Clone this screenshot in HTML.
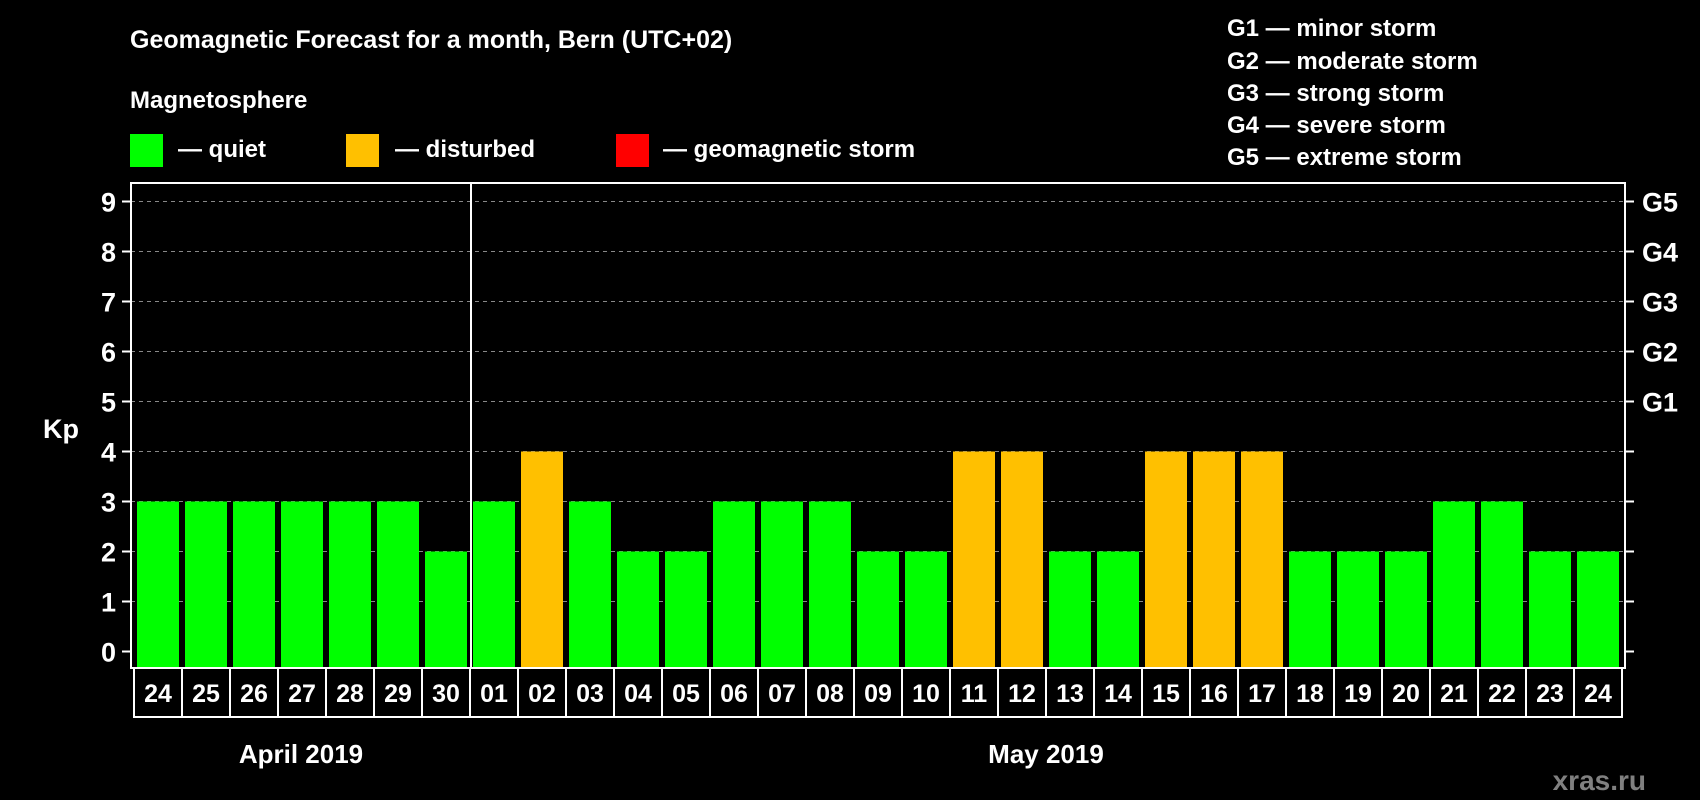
<!DOCTYPE html>
<html><head><meta charset="utf-8"><style>
html,body{margin:0;padding:0;background:#000;width:1700px;height:800px;overflow:hidden}
svg{display:block;font-family:"Liberation Sans",sans-serif;font-weight:bold}
</style></head><body>
<svg id="c" width="1700" height="800" viewBox="0 0 1700 800">
<text x="130" y="48" fill="#fff" font-size="25">Geomagnetic Forecast for a month, Bern (UTC+02)</text>
<text x="130" y="108" fill="#fff" font-size="24">Magnetosphere</text>
<rect x="130" y="134" width="33" height="33" fill="#00ff00"/>
<text x="178" y="157" fill="#fff" font-size="24">— quiet</text>
<rect x="346" y="134" width="33" height="33" fill="#ffc000"/>
<text x="395" y="157" fill="#fff" font-size="24">— disturbed</text>
<rect x="616" y="134" width="33" height="33" fill="#ff0000"/>
<text x="663" y="157" fill="#fff" font-size="24">— geomagnetic storm</text>
<g fill="#fff" font-size="24">
<text x="1227" y="36">G1 — minor storm</text>
<text x="1227" y="69">G2 — moderate storm</text>
<text x="1227" y="101">G3 — strong storm</text>
<text x="1227" y="133">G4 — severe storm</text>
<text x="1227" y="165">G5 — extreme storm</text>
</g>
<text x="43" y="438" fill="#fff" font-size="27">Kp</text>
<text x="1646" y="790" fill="#808080" font-size="28" text-anchor="end">xras.ru</text>
<text x="301" y="763" fill="#fff" font-size="26" text-anchor="middle">April 2019</text>
<text x="1046" y="763" fill="#fff" font-size="26" text-anchor="middle">May 2019</text>
<g id="plot"></g>
</svg>
<script>
const days=["24","25","26","27","28","29","30","01","02","03","04","05","06","07","08","09","10","11","12","13","14","15","16","17","18","19","20","21","22","23","24"];
const kp=[3,3,3,3,3,3,2,3,4,3,2,2,3,3,3,2,2,4,4,2,2,4,4,4,2,2,2,3,3,2,2];
const yTicks=[0,1,2,3,4,5,6,7,8,9];
const gLabels=["G1","G2","G3","G4","G5"];
const gLevels=[5,6,7,8,9];
const NS="http://www.w3.org/2000/svg";
const g=document.getElementById('plot');
const X0=134,PITCH=48,Y0=651.5,UNIT=50,PL=131,PR=1625,PT=183,PB=668;
const xs=i=>X0+i*PITCH, ys=v=>Y0-v*UNIT;
function mk(t,a){const e=document.createElementNS(NS,t);for(const k in a)e.setAttribute(k,a[k]);g.appendChild(e);return e;}
yTicks.forEach(v=>{
  if(v>0){const l=mk('line',{x1:PL,x2:PR,y1:ys(v),y2:ys(v),stroke:'#888','stroke-width':1,'stroke-dasharray':'4,4'});
  
  }
  const t1=mk('line',{x1:PL-9,x2:PL,y1:ys(v),y2:ys(v),stroke:'#fff','stroke-width':2});
  
  
  const t2=mk('line',{x1:PR,x2:PR+9,y1:ys(v),y2:ys(v),stroke:'#fff','stroke-width':2});
  
  
  const tx=mk('text',{x:116,y:ys(v)+10,fill:'#fff','font-size':27,'text-anchor':'end'});
  tx.textContent=v;
  
  
});
gLevels.forEach((v,i)=>{
  const t=mk('text',{x:1642,y:ys(v)+10,fill:'#fff','font-size':27});
  t.textContent=gLabels[i];
  
  
});
kp.forEach((v,i)=>{
  const col=v>=5?'#ff0000':(v>=4?'#ffc000':'#00ff00');
  const b=mk('rect',{x:xs(i)+3,y:ys(v),width:PITCH-6,height:PB-ys(v),fill:col});
  
  
  const bx=mk('rect',{x:xs(i),y:PB,width:PITCH,height:49,fill:'none',stroke:'#fff','stroke-width':2});
  
  
  const t=mk('text',{x:xs(i)+PITCH/2,y:PB+34,fill:'#fff','font-size':25,'text-anchor':'middle'});
  t.textContent=days[i];
  
  
});
const fr=mk('rect',{x:PL,y:PT,width:PR-PL,height:PB-PT,fill:'none',stroke:'#fff','stroke-width':2});


const sep=mk('line',{x1:471,x2:471,y1:PT,y2:PB,stroke:'#fff','stroke-width':2});


</script>
</body></html>
